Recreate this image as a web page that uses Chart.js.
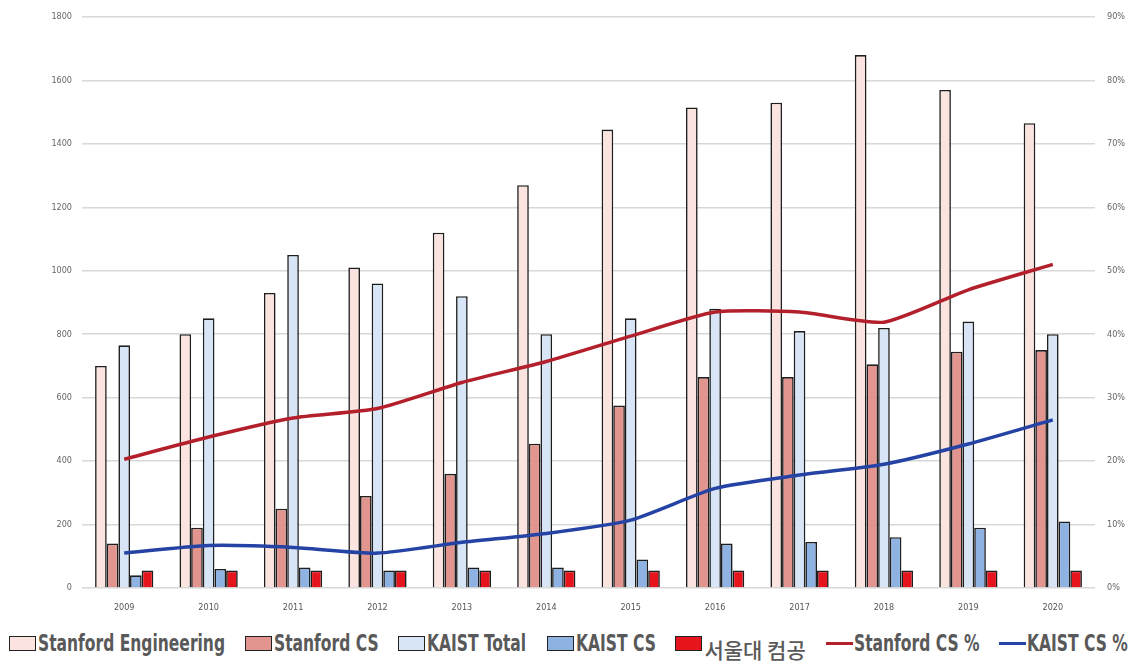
<!DOCTYPE html>
<html>
<head>
<meta charset="utf-8">
<script src="https://cdn.jsdelivr.net/npm/chart.js@4.4.1/dist/chart.umd.min.js"></script>
<style>
  html, body { margin: 0; padding: 0; background: #fff; }
  #wrap { position: relative; width: 1133px; height: 663px; }
  #chartBox { position: absolute; left: 0; top: 0; width: 1133px; height: 622px; }
  #legend {
    position: absolute; left: 9px; right: 5px; top: 625px; height: 36px;
    display: flex; justify-content: space-between; align-items: center;
    font-family: "DejaVu Sans Condensed", "DejaVu Sans", sans-serif;
    font-weight: bold; font-size: 23px; color: #595959;
  }
  .item { display: flex; align-items: center; white-space: nowrap; }
  .box { width: 25px; height: 13px; border: 1.5px solid #222; margin-right: 2px; flex: none; }
  .line { width: 27px; height: 3px; margin-right: 1px; flex: none; }
  .txt { display: inline-block; transform-origin: 0 50%; }
  .ko { font-family: "Noto Sans CJK KR", sans-serif; font-weight: 500; font-size: 21px; position: relative; top: 6px; }
</style>
</head>
<body>
<div id="wrap">
  <div id="chartBox"><canvas id="chart"></canvas></div>
  <div id="legend"></div>
</div>
<script>
// 연도별 인원 비교
const years = ['2009', '2010', '2011', '2012', '2013', '2014', '2015', '2016', '2017', '2018', '2019', '2020'];

const stanfordEng = [700, 800, 930, 1010, 1120, 1270, 1445, 1515, 1530, 1680, 1570, 1465];
const stanfordCS  = [140, 190, 250, 290, 360, 455, 575, 665, 665, 705, 745, 750];
const kaistTotal  = [765, 850, 1050, 960, 920, 800, 850, 880, 810, 820, 840, 800];
const kaistCS     = [40, 60, 65, 55, 65, 65, 90, 140, 145, 160, 190, 210];
const snuCS       = [55, 55, 55, 55, 55, 55, 55, 55, 55, 55, 55, 55];

// 비율 (%), 오른쪽 축
const stanfordPct = [20.3, 23.8, 26.8, 28.3, 32.4, 35.7, 39.7, 43.5, 43.5, 41.9, 47.0, 51.0];
const kaistPct    = [5.5, 6.7, 6.4, 5.5, 7.2, 8.6, 10.7, 15.7, 17.8, 19.5, 22.7, 26.5];

const leftTicks = { max: 1800, step: 200 };
const rightTicks = { max: 90, step: 10 };

const tickFont = { family: '"DejaVu Sans Condensed", sans-serif', size: 9 };

const barStyle = (label, data, color) => ({
  type: 'bar', label, data, yAxisID: 'y', order: 2,
  backgroundColor: color, borderColor: '#1e1e1e', borderWidth: 1.6,
  barPercentage: 1.0, categoryPercentage: 0.69,
});

const lineStyle = (label, data, color) => ({
  type: 'line', label, data, yAxisID: 'y1', order: 1,
  borderColor: color, backgroundColor: color, borderWidth: 3.5,
  pointRadius: 0, tension: 0.2, fill: false,
});

const datasets = [
  barStyle('Stanford Engineering', stanfordEng, '#fbe4df'),
  barStyle('Stanford CS', stanfordCS, '#e2958f'),
  barStyle('KAIST Total', kaistTotal, '#d7e5f6'),
  barStyle('KAIST CS', kaistCS, '#8eb2e2'),
  barStyle('서울대 컴공', snuCS, '#e5141d'),
  lineStyle('Stanford CS %', stanfordPct, '#b3202b'),
  lineStyle('KAIST CS %', kaistPct, '#2443a5'),
];

new Chart(document.getElementById('chart'), {
  data: { labels: years, datasets },
  options: {
    responsive: true,
    maintainAspectRatio: false,
    animation: false,
    layout: { padding: { top: 17, left: 0, right: 0, bottom: 0 } },
    plugins: { legend: { display: false }, tooltip: { enabled: false } },
    scales: {
      x: {
        grid: { display: false },
        border: { display: false },
        ticks: { font: tickFont, color: '#555', padding: 6 },
        afterFit: (s) => { s.height = 34; },
      },
      y: {
        position: 'left',
        min: 0, max: leftTicks.max,
        ticks: { stepSize: leftTicks.step, font: tickFont, color: '#666', padding: 10,
          callback: (v) => String(v) },
        grid: { color: '#d8d8d8', lineWidth: 1.5, drawTicks: false },
        border: { display: false },
        afterFit: (s) => { s.width = 82; },
      },
      y1: {
        position: 'right',
        min: 0, max: rightTicks.max,
        ticks: { stepSize: rightTicks.step, font: tickFont, color: '#666', padding: 4,
          callback: (v) => v + '%' },
        grid: { display: false },
        border: { display: false },
        afterFit: (s) => { s.width = 38; },
      },
    },
  },
});

// 범례 (HTML) - 좁은 글꼴 느낌을 위해 가로로 압축
const legendEl = document.getElementById('legend');
datasets.forEach(ds => {
  const item = document.createElement('div');
  item.className = 'item';
  const mark = document.createElement('span');
  if (ds.type === 'bar') {
    mark.className = 'box';
    mark.style.background = ds.backgroundColor;
  } else {
    mark.className = 'line';
    mark.style.background = ds.borderColor;
  }
  const text = document.createElement('span');
  text.textContent = ds.label;
  const korean = /[가-힣]/.test(ds.label);
  text.className = korean ? 'txt ko' : 'txt';
  item.appendChild(mark);
  item.appendChild(text);
  legendEl.appendChild(item);
  if (!korean) {
    const w = text.getBoundingClientRect().width;
    const k = 0.75;
    text.style.transform = `scaleX(${k})`;
    text.style.marginRight = `${-(1 - k) * w}px`;
  }
});
</script>
</body>
</html>
